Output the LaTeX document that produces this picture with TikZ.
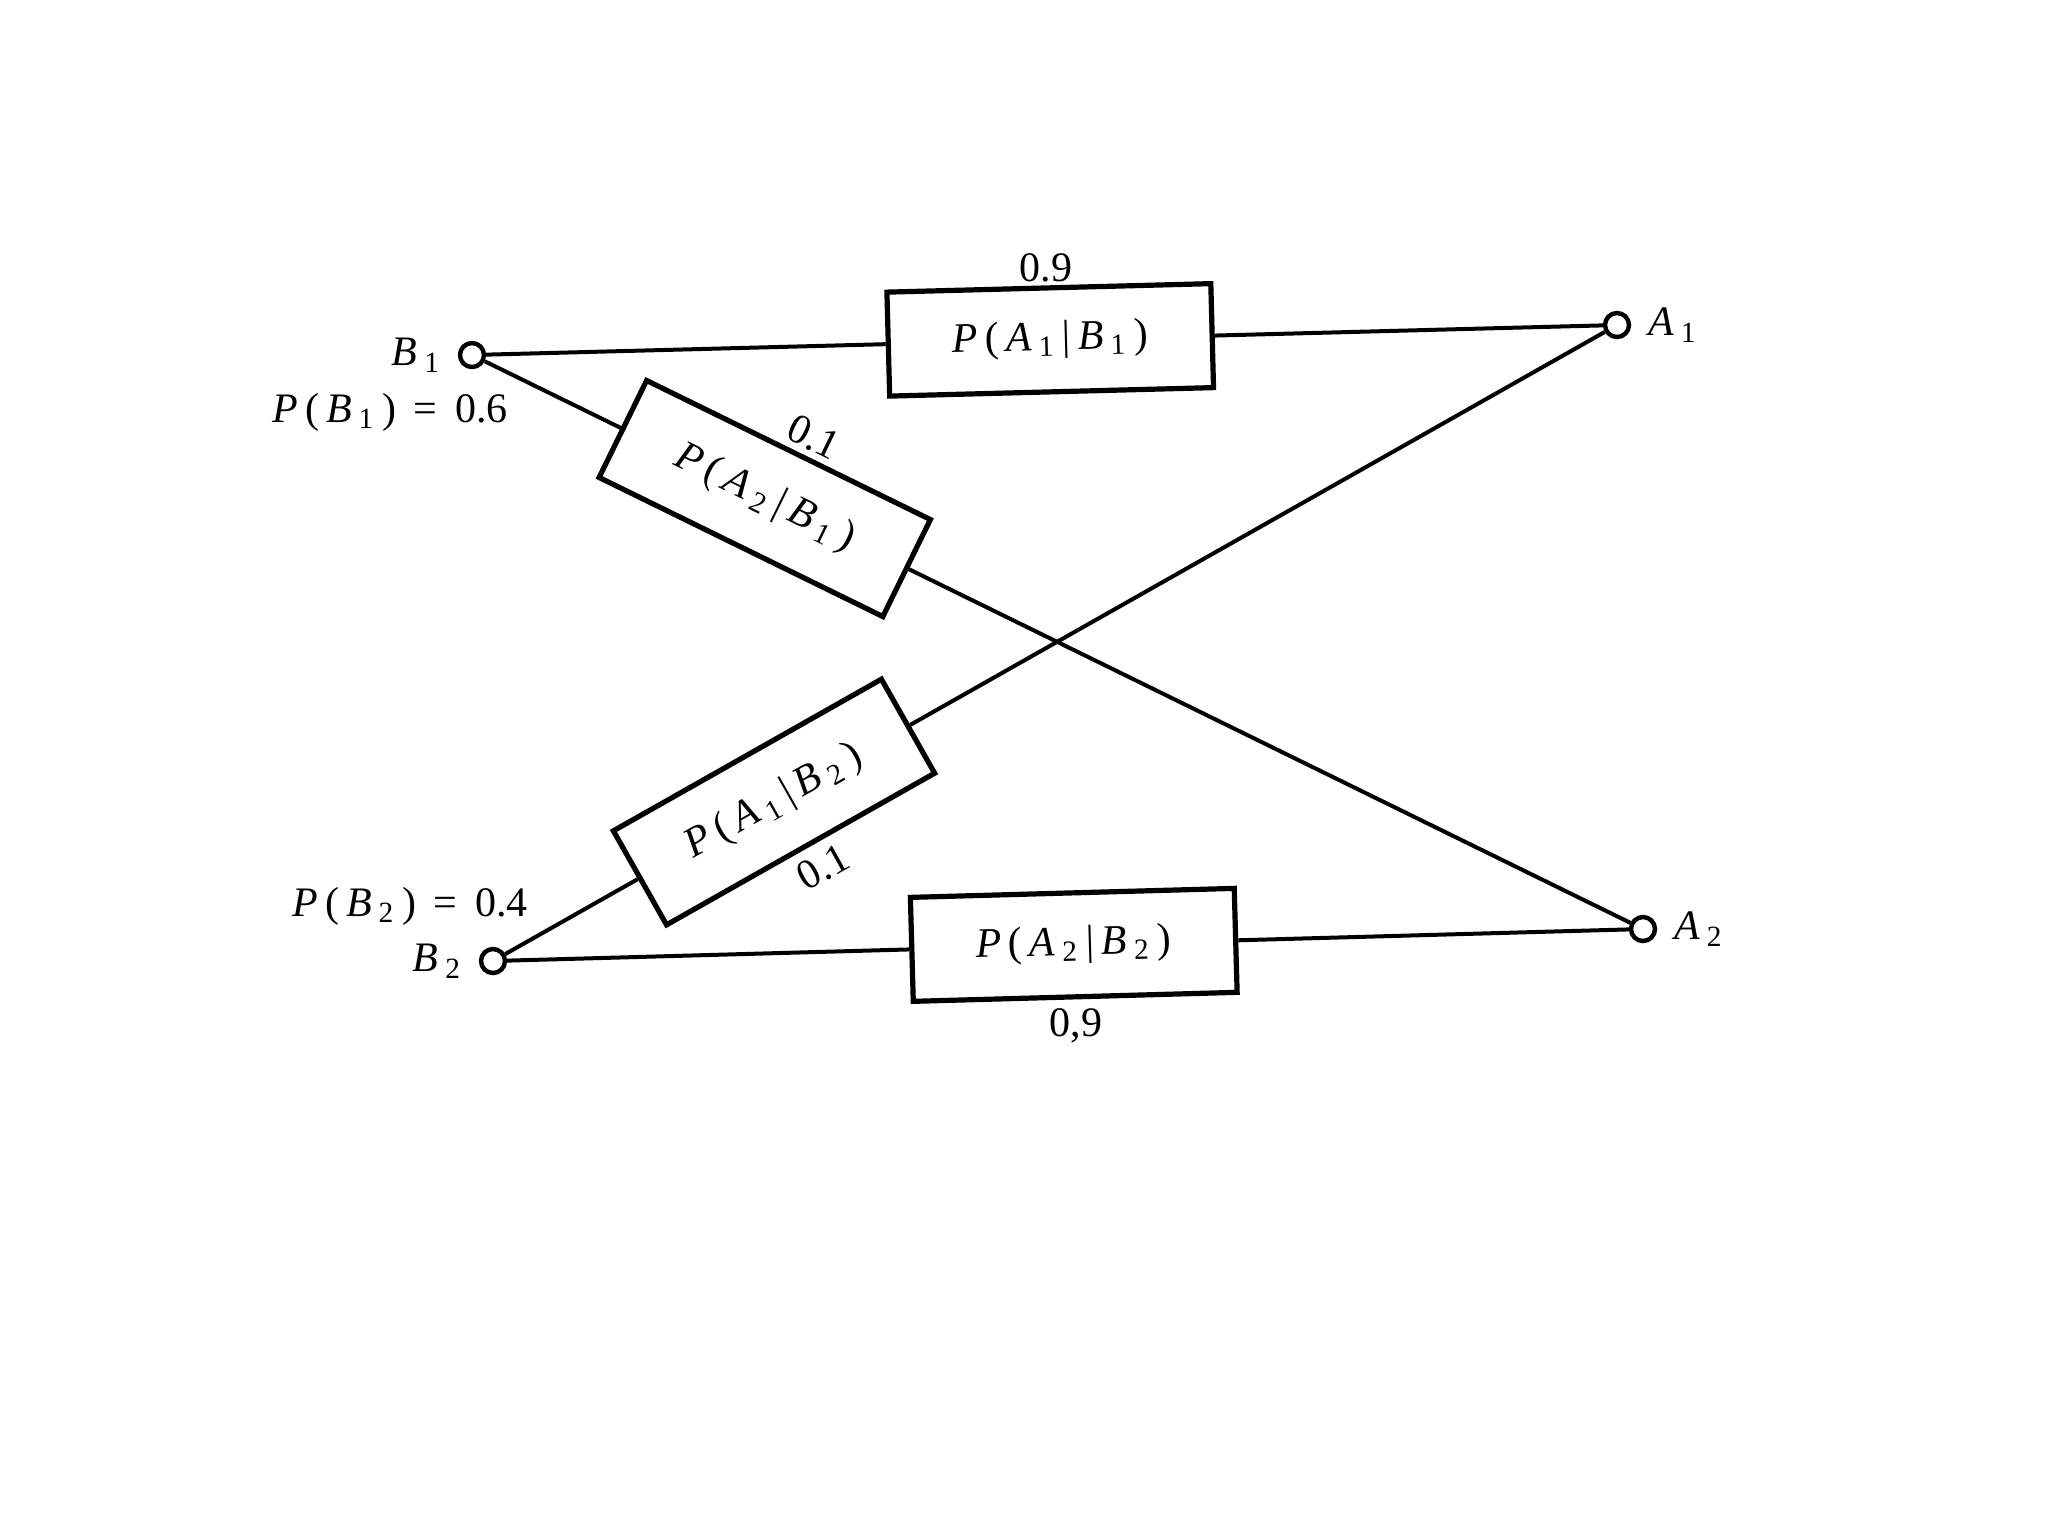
\documentclass[tikz,border=0pt]{standalone}
\usepackage{fontspec}
\setmainfont{Liberation Serif}
\usetikzlibrary{calc}
\newcommand\ivar[2]{\textit{#1}\,\textsubscript{#2}}
\begin{document}
\begin{tikzpicture}[x=0.25pt,y=-0.25pt,
  term/.style={circle,draw,line width=1.1pt,inner sep=0pt,minimum size=6pt,fill=white},
  pbox/.style={draw,line width=1.3pt,minimum width=81pt,minimum height=26pt,inner sep=0pt,fill=white,font=\fontsize{10.5}{12}\selectfont},
  wire/.style={line width=1pt},
  lbl/.style={font=\fontsize{10.5}{12}\selectfont,inner sep=1pt}]
\useasboundingbox (0,0) rectangle (2048,1536);
\node[term] (B1) at (472,355) {};
\node[term] (A1) at (1617,325) {};
\node[term] (B2) at (493,961) {};
\node[term] (A2) at (1643,929) {};
\path let \p1=($(A1)-(B1)$), \n1={atan2(\y1,\x1)} in
  node[pbox,rotate=\n1] (p11) at ($(B1)!0.505!(A1)$) {\textit{P}\,(\,\ivar{A}{1}\,|\,\ivar{B}{1}\,)};
\path let \p1=($(A2)-(B1)$), \n1={atan2(\y1,\x1)} in
  node[pbox,rotate=\n1,minimum width=79pt,minimum height=27pt] (p21) at ($(B1)!0.25!(A2)$) {\textit{P}\,(\,\ivar{A}{2}\,|\,\ivar{B}{1}\,)};
\path let \p1=($(A1)-(B2)$), \n1={atan2(\y1,\x1)} in
  node[pbox,rotate=\n1,minimum width=77pt,minimum height=27pt] (p12) at ($(B2)!0.25!(A1)$) {\textit{P}\,(\,\ivar{A}{1}\,|\,\ivar{B}{2}\,)};
\path let \p1=($(A2)-(B2)$), \n1={atan2(\y1,\x1)} in
  node[pbox,rotate=\n1] (p22) at ($(B2)!0.505!(A2)$) {\textit{P}\,(\,\ivar{A}{2}\,|\,\ivar{B}{2}\,)};
\draw[wire] (B1) -- (p11.west);
\draw[wire] (p11.east) -- (A1);
\draw[wire] (B1) -- (p21.west);
\draw[wire] (p21.east) -- (A2);
\draw[wire] (B2) -- (p12.west);
\draw[wire] (p12.east) -- (A1);
\draw[wire] (B2) -- (p22.west);
\draw[wire] (p22.east) -- (A2);
\node[lbl] (l11) at (1046,268) {0.9};
\node[lbl,rotate=-26] (l21) at (814,437) {0.1};
\node[lbl,rotate=29] (l12) at (823,867) {0.1};
\node[lbl] (l22) at (1076,1026) {0,9};
\node[lbl,anchor=east] (lb1) at ([xshift=-3pt]B1.west) {\ivar{B}{1}};
\node[lbl] (pb1) at (390,412) {\textit{P}\,(\,\ivar{B}{1}\,) \,=\, 0.6};
\node[lbl,anchor=west] (la1) at ([xshift=3pt]A1.east) {\ivar{A}{1}};
\node[lbl] (pb2) at (410,906) {\textit{P}\,(\,\ivar{B}{2}\,) \,=\, 0.4};
\node[lbl,anchor=east] (lb2) at ([xshift=-3pt]B2.west) {\ivar{B}{2}};
\node[lbl,anchor=west] (la2) at ([xshift=3pt]A2.east) {\ivar{A}{2}};
\end{tikzpicture}
\end{document}
